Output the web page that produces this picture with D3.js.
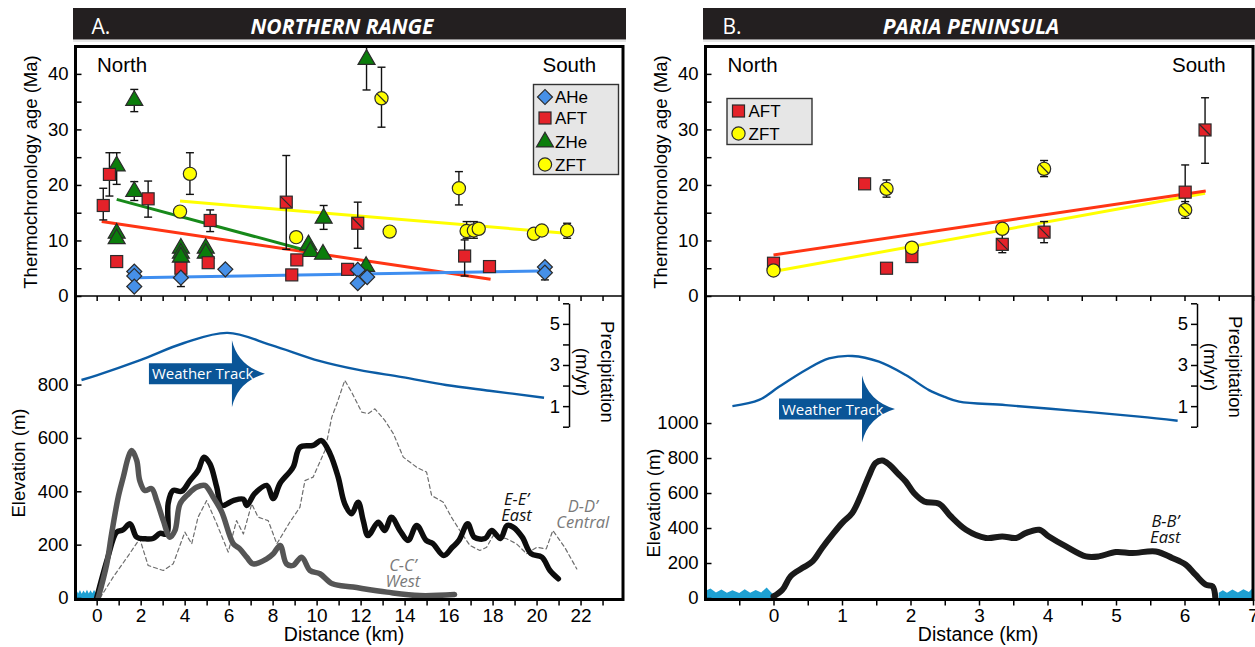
<!DOCTYPE html>
<html><head><meta charset="utf-8">
<script src="https://cdn.jsdelivr.net/npm/d3@7"></script>
<style>body{margin:0;background:#fff;} svg{display:block;}</style>
</head><body>
<svg id="chart" width="1255" height="647"></svg>
<script>
// ---------------- DATA ----------------
// Tick labels
const ageLabels = [0, 10, 20, 30, 40];
const ageMinor = [0, 5, 10, 15, 20, 25, 30, 35, 40];
const elevLabelsA = [0, 200, 400, 600, 800];
const elevLabelsB = [0, 200, 400, 600, 800, 1000];
const precipLabels = [1, 3, 5];
const precipTicks = [0, 1, 2, 3, 4, 5, 6];
const distLabelsA = [0, 2, 4, 6, 8, 10, 12, 14, 16, 18, 20, 22];
const distTicksA = [0,1,2,3,4,5,6,7,8,9,10,11,12,13,14,15,16,17,18,19,20,21,22,23];
const distLabelsB = [0, 1, 2, 3, 4, 5, 6, 7];
const distTicksB = [-0.5,0,0.5,1,1.5,2,2.5,3,3.5,4,4.5,5,5.5,6,6.5,7];

// Panel A thermochronology ages: [km, age Ma, errLow, errHigh, hatched]
const AHe_A = [[1.71,4.4],[1.71,3.6],[1.71,1.7],[3.83,3.3,1.7,4.0],[5.85,4.8],[11.87,4.7],[11.87,2.3],[12.3,3.4],[20.38,5.2],[20.38,4.2,2.9,4.2]];
const AFT_A = [[0.3,16.3,13.7,19.4],[0.58,21.9,18.0,25.8],[0.91,6.2],[2.34,17.5,14.2,20.7],[3.83,5.0],[5.07,6.0],
  [5.16,13.6,11.6,15.5],[8.62,16.9,8.4,25.3,1],[9.1,6.5],[8.87,3.8],[11.87,13.1,8.6,16.9,1],[11.41,4.8,4.3,5.3],[16.73,7.2,3.6,10.1],[17.86,5.3]];
const ZHe_A = [[0.91,23.4,20.1,25.8],[1.71,35.2,33.2,37.2],[1.71,18.8,17.2,20.6],[0.91,11.3],[0.91,10.3],
  [3.83,8.6],[3.83,7.7],[3.83,7.0],[4.96,8.6],[4.96,7.7],[9.63,9.2],[9.72,8.0],[10.29,7.5],[10.32,14.0,12.0,16.3],[12.27,42.6,37.1,44.9],[12.25,5.3]];
const ZFT_A = [[3.79,15.2,14.6,15.9],[4.24,22.0,18.3,25.8],[9.07,10.6],[12.95,35.6,30.4,41.2,1],[13.32,11.6],[16.47,19.4,16.4,22.4],
  [16.82,11.7,10.4,13.4],[17.15,11.8,10.4,13.4],[17.37,12.1,11.4,13.0],[19.88,11.2,10.5,11.9],[20.24,11.8],[21.39,11.8,10.4,13.1]];
// Panel A trend lines
const trendAHe_A = [[1.75,3.3],[20.19,4.5]];
const trendAFT_A = [[0.23,13.4],[17.91,3.0]];
const trendZHe_A = [[0.91,17.4],[9.92,7.8]];
const trendZFT_A = [[3.79,17.1],[21.34,11.3]];

// Panel B ages
const AFT_B = [[0.0,5.9],[1.33,20.2],[1.65,5.0],[2.02,7.1],[3.34,9.3,7.8,11.3,1],[3.95,11.5,9.6,13.4,1],[6.01,18.7,15.5,23.6],[6.3,29.9,23.9,35.7,1]];
const ZFT_B = [[0.0,4.6],[1.65,19.3,17.8,20.9,1],[2.02,8.7],[3.34,12.1],[3.95,22.9,21.5,24.4,1],[6.01,15.5,14.0,17.0,1]];
const trendAFT_B = [[0,7.4],[6.31,18.9]];
const trendZFT_B = [[0,4.4],[6.3,18.5]];

// Precipitation (m/yr) along distance (km)
const precipA = [[-0.69,2.27],[0,2.5],[1.98,3.24],[3.97,4.07],[5.95,4.56],[7.94,3.97],[10.12,3.2],[11.91,2.76],[13.89,2.41],[15.88,2.03],[17.86,1.75],[20.34,1.41]];
const precipB = [[-0.6,1.0],[-0.21,1.3],[0.08,1.94],[0.47,2.76],[0.81,3.32],[1.15,3.44],[1.54,3.16],[1.93,2.51],[2.27,1.78],[2.5,1.45],[2.71,1.22],[3.39,1.05],[4.36,0.78],[5.34,0.49],[5.9,0.29]];

// Elevation profiles [km, m]
const profileEE = [[0,0],[0.5,150],[0.91,247],[1.19,255],[1.52,278],[1.82,228],[2.18,222],[2.56,223],[2.88,242],[3.18,240],[3.25,354],[3.47,403],[3.87,400],[4.24,440],[4.61,478],[4.88,528],[5.15,503],[5.46,415],[5.69,347],[6.21,365],[6.67,370],[6.82,347],[7.19,392],[7.73,422],[8.03,373],[8.34,430],[8.93,490],[9.24,565],[9.84,572],[10.22,590],[10.61,541],[10.98,453],[11.28,353],[11.59,316],[11.89,359],[12.12,290],[12.34,234],[12.8,284],[13.1,253],[13.4,303],[13.79,253],[14.16,216],[14.55,272],[14.98,216],[15.28,204],[15.78,159],[16.17,190],[16.47,216],[16.87,278],[17.17,228],[17.66,223],[17.96,253],[18.36,223],[18.66,272],[18.95,265],[19.35,228],[19.75,166],[20.24,153],[20.61,103],[20.99,72]];
const profileCC = [[0.07,0],[0.46,128],[0.68,241],[0.98,378],[1.21,453],[1.44,528],[1.59,553],[1.82,516],[1.96,440],[2.19,403],[2.5,410],[2.73,365],[3.03,290],[3.33,228],[3.56,253],[3.79,353],[4.17,390],[4.54,415],[4.92,422],[5.3,378],[5.69,322],[6.21,204],[6.51,184],[6.82,153],[7.11,128],[7.73,147],[8.03,166],[8.34,197],[8.63,128],[8.93,122],[9.32,153],[9.7,103],[10.15,91],[10.72,53],[11.66,41],[13.2,22],[14.69,9],[16.27,13]];
const profileDD = [[0.15,0],[0.75,78],[1.44,159],[1.96,222],[2.34,122],[3.03,103],[3.48,128],[4.01,247],[4.32,203],[4.61,303],[5.0,365],[5.46,278],[5.98,172],[6.36,290],[6.67,240],[7.05,353],[7.34,303],[7.8,290],[8.19,203],[8.78,284],[9.24,340],[9.47,440],[9.84,453],[10.38,553],[10.69,678],[10.92,728],[11.28,816],[11.59,772],[12.05,697],[12.34,691],[12.65,709],[13.1,666],[13.49,616],[13.94,528],[14.55,490],[15.0,472],[15.23,384],[15.76,359],[16.13,303],[16.51,253],[16.97,197],[17.42,178],[17.73,190],[18.03,234],[18.64,222],[19.09,203],[19.55,166],[20.01,190],[20.44,184],[20.74,253],[21.28,190],[21.83,109]];
const profileBB = [[0,9],[0.13,47],[0.25,124],[0.42,171],[0.57,209],[0.71,286],[0.86,362],[1.0,428],[1.15,486],[1.27,581],[1.39,695],[1.49,771],[1.59,786],[1.69,762],[1.81,714],[1.93,666],[2.05,600],[2.2,552],[2.42,538],[2.58,470],[2.81,390],[3.1,343],[3.34,352],[3.54,343],[3.68,371],[3.88,390],[4.02,352],[4.27,295],[4.56,238],[4.75,238],[5.0,263],[5.24,257],[5.58,266],[5.82,229],[6.02,190],[6.16,133],[6.31,76],[6.41,66],[6.45,0]];

// Sea level fills [km, m]
const seaA = [[-1,20],[-0.92,29],[-0.84,17],[-0.76,30],[-0.68,16],[-0.6,28],[-0.52,18],[-0.44,31],[-0.36,17],[-0.28,29],[-0.2,18],[-0.12,30],[-0.04,20],[0,24]];
const seaBLeft = [[-1,40],[-0.92,55],[-0.84,32],[-0.76,48],[-0.68,30],[-0.6,45],[-0.5,28],[-0.42,50],[-0.34,30],[-0.26,46],[-0.18,32],[-0.1,60],[-0.04,35],[0,20]];
const seaBRight = [[6.5,30],[6.56,45],[6.62,30],[6.7,48],[6.78,32],[6.86,50],[6.94,35],[7,60]];

// ---------------- DRAWING ----------------
const svg = d3.select("#chart");
const FONT = '"Liberation Sans", Arial, sans-serif';
const MYR = '"Open Sans", "Noto Sans", sans-serif';
const FILL = {AFT: "#e42229", ZFT: "#ffff00", ZHe: "#0b7d0b", AHe: "#4690e8"};
const yAge = d3.scaleLinear().domain([0, 45.2]).range([296, 45]);
const yP = d3.scaleLinear().domain([0, 6]).range([426.7, 303.3]);

function marker(g, type, cx, cy, hatch) {
  const st = "#2b2b2b";
  if (type === "AFT") {
    g.append("rect").attr("x", cx - 6).attr("y", cy - 6).attr("width", 12).attr("height", 12)
      .attr("fill", FILL.AFT).attr("stroke", st).attr("stroke-width", 1.2);
    if (hatch) g.append("line").attr("x1", cx - 5.5).attr("y1", cy - 5.5).attr("x2", cx + 5.5).attr("y2", cy + 5.5).attr("stroke", st).attr("stroke-width", 1.2);
  } else if (type === "ZFT") {
    g.append("circle").attr("cx", cx).attr("cy", cy).attr("r", 6.6)
      .attr("fill", FILL.ZFT).attr("stroke", st).attr("stroke-width", 1.2);
    if (hatch) g.append("line").attr("x1", cx - 4.4).attr("y1", cy - 4.4).attr("x2", cx + 4.4).attr("y2", cy + 4.4).attr("stroke", st).attr("stroke-width", 1.2);
  } else if (type === "ZHe") {
    g.append("path").attr("d", d3.symbol(d3.symbolTriangle, 125)()).attr("transform", `translate(${cx},${cy})`)
      .attr("fill", FILL.ZHe).attr("stroke", st).attr("stroke-width", 1.2);
  } else {
    g.append("path").attr("d", d3.symbol(d3.symbolSquare, 112)()).attr("transform", `translate(${cx},${cy}) rotate(45)`)
      .attr("fill", FILL.AHe).attr("stroke", st).attr("stroke-width", 1.2);
  }
}

function txt(g, s, x, y, size, opts = {}) {
  const t = g.append("text").attr("x", x).attr("y", y).attr("font-size", size)
    .attr("font-family", opts.family || FONT).attr("fill", opts.fill || "#000").text(s);
  if (opts.anchor) t.attr("text-anchor", opts.anchor);
  if (opts.italic) t.attr("font-style", "italic");
  if (opts.bold) t.attr("font-weight", 700);
  return t;
}
function rtxt(g, s, cx, cy, size, angle) {
  g.append("text").attr("transform", `translate(${cx},${cy}) rotate(${angle})`).attr("text-anchor", "middle")
    .attr("dy", "0.35em").attr("font-size", size).attr("font-family", FONT).attr("fill", "#000").text(s);
}

function drawPanel(p) {
  const g = svg.append("g");
  const x = d3.scaleLinear().domain(p.xDomain).range([p.left, p.right]);
  const yE = d3.scaleLinear().domain([0, p.elevMax]).range([598, 296]);

  // title bar
  g.append("rect").attr("x", p.bar[0]).attr("y", 8).attr("width", p.bar[1] - p.bar[0]).attr("height", 31.5).attr("fill", "#231f20");
  g.append("line").attr("x1", p.bar[0]).attr("x2", p.bar[1]).attr("y1", 41).attr("y2", 41).attr("stroke", "#cfcfcf").attr("stroke-width", 1.2);
  txt(g, p.letter, p.letterX, 34, 21, {family: MYR, fill: "#fff"});
  txt(g, p.title, p.titleX, 34, 21, {family: MYR, fill: "#fff", anchor: "middle", italic: true, bold: true});

  // sea
  const seaArea = d3.area().x(d => x(d[0])).y0(yE(0)).y1(d => yE(d[1]));
  p.sea.forEach(s => g.append("path").attr("d", seaArea(s)).attr("fill", "#1ea0d2"));

  // precipitation curve
  const pl = d3.line().x(d => x(d[0])).y(d => yP(d[1])).curve(d3.curveCatmullRom);
  g.append("path").attr("d", pl(p.precip)).attr("fill", "none").attr("stroke", "#0b5ca5").attr("stroke-width", 2.4);

  // weather track arrow
  const ax = x(p.arrow[0]), ay = yP(p.arrow[1]);
  g.append("path").attr("d", `M${ax - 83},${ay - 10.5}H${ax}V${ay - 33.5}Q${ax + 6},${ay - 8} ${ax + 33},${ay}Q${ax + 6},${ay + 8} ${ax},${ay + 33.5}V${ay + 10.5}H${ax - 83}Z`)
    .attr("fill", "#0a5597");
  txt(g, "Weather Track", ax - 80, ay + 5.5, 15, {family: MYR, fill: "#fff"});

  // elevation profiles
  p.profiles.forEach(pr => {
    const ln = d3.line().x(d => x(d[0])).y(d => yE(d[1])).curve(pr.dash ? d3.curveLinear : d3.curveCatmullRom);
    const path = g.append("path").attr("d", ln(pr.data)).attr("fill", "none").attr("stroke", pr.color)
      .attr("stroke-width", pr.width).attr("stroke-linejoin", "round").attr("stroke-linecap", "round");
    if (pr.dash) path.attr("stroke-dasharray", pr.dash);
  });
  p.profileLabels.forEach(l => {
    txt(g, l.t1, x(l.km), yE(l.m) - 1, 16.5, {family: MYR, italic: true, anchor: "middle", fill: l.color});
    txt(g, l.t2, x(l.km), yE(l.m) + 15, 16.5, {family: MYR, italic: true, anchor: "middle", fill: l.color});
  });

  // thermochronology: trends, error bars, markers
  const la = d3.line().x(d => x(d[0])).y(d => yAge(d[1]));
  p.trends.forEach(t => g.append("path").attr("d", la(t.data)).attr("fill", "none").attr("stroke", t.color).attr("stroke-width", 3));
  p.series.forEach(s => s.data.filter(d => d.length >= 4).forEach(d => {
    const cx = x(d[0]), y1 = yAge(d[2]), y2 = yAge(d[3]);
    g.append("line").attr("x1", cx).attr("x2", cx).attr("y1", y1).attr("y2", y2).attr("stroke", "#111").attr("stroke-width", 1.4);
    [y1, y2].forEach(yy => g.append("line").attr("x1", cx - 4).attr("x2", cx + 4).attr("y1", yy).attr("y2", yy).attr("stroke", "#111").attr("stroke-width", 1.4));
  }));
  p.series.forEach(s => s.data.forEach(d => marker(g, s.type, x(d[0]), yAge(d[1]), d[4])));

  // axes
  const styleAxis = (ga, size) => {
    ga.selectAll(".tick line").attr("stroke", "#000").attr("stroke-width", 1.5);
    ga.selectAll("text").attr("font-size", size).attr("font-family", FONT).attr("fill", "#000");
  };
  const gAge = g.append("g").attr("transform", `translate(${p.left + 0.5},0)`)
    .call(d3.axisLeft(yAge).tickValues(ageMinor).tickSize(-6).tickPadding(7).tickFormat(d => ageLabels.includes(d) ? d : ""));
  gAge.select(".domain").remove(); styleAxis(gAge, 18.5);
  const gEl = g.append("g").attr("transform", `translate(${p.left + 0.5},0)`)
    .call(d3.axisLeft(yE).tickValues(p.elevLabels).tickSize(-6).tickPadding(7).tickFormat(d => d));
  gEl.select(".domain").remove(); styleAxis(gEl, 18.5);
  const gMid = g.append("g").attr("transform", "translate(0,296)")
    .call(d3.axisBottom(x).tickValues(p.distTicks).tickSize(5).tickFormat(""));
  gMid.select(".domain").remove(); styleAxis(gMid, 10);
  g.append("line").attr("x1", p.left).attr("x2", p.right).attr("y1", 296).attr("y2", 296).attr("stroke", "#000").attr("stroke-width", 1.5);
  const gBot = g.append("g").attr("transform", "translate(0,599.5)")
    .call(d3.axisBottom(x).tickValues(p.distTicks).tickSize(6).tickPadding(3).tickFormat(d => p.distLabels.includes(d) ? d : ""));
  gBot.select(".domain").remove(); styleAxis(gBot, 19);
  const gPr = g.append("g").attr("transform", `translate(${p.precipX},0)`)
    .call(d3.axisLeft(yP).tickValues(precipTicks).tickSize(6).tickSizeOuter(0).tickPadding(3).tickFormat(d => precipLabels.includes(d) ? d : ""));
  gPr.select(".domain").attr("stroke", "#000").attr("stroke-width", 1.5); styleAxis(gPr, 18.5);

  // frame
  g.append("rect").attr("x", p.left + 0.5).attr("y", 46.5).attr("width", p.right - p.left - 0.5).attr("height", 553)
    .attr("fill", "none").attr("stroke", "#000").attr("stroke-width", 3);

  // labels
  txt(g, "North", p.northX, 72, 20.5);
  txt(g, "South", p.southX, 72, 20.5);
  rtxt(g, "Thermochronology age (Ma)", p.ageTitleX, 172, 18.5, -90);
  rtxt(g, "Elevation (m)", p.elevTitle[0], p.elevTitle[1], 18.5, -90);
  rtxt(g, "(m/yr)", p.precipX + 13, p.precipTitleY, 18.5, 90);
  rtxt(g, "Precipitation", p.precipX + 38, p.precipTitleY, 18.5, 90);
  txt(g, "Distance (km)", p.distTitleX, 641, 19.5, {anchor: "middle"});

  // legend
  const L = p.legend;
  g.append("rect").attr("x", L.x).attr("y", L.y).attr("width", L.w).attr("height", L.h)
    .attr("fill", "#e6e6e6").attr("stroke", "#333").attr("stroke-width", 1.4);
  L.items.forEach((it, i) => {
    const cy = L.y + L.first + i * L.step[i];
    marker(g, it, L.x + 11.5, cy, 0);
    txt(g, it, L.x + 21.5, cy + 6, 17);
  });
}

drawPanel({
  left: 75, right: 623, xDomain: [-0.985, 23.93], elevMax: 1132, bar: [73, 626],
  letter: "A.", letterX: 91.5, title: "NORTHERN RANGE", titleX: 342,
  sea: [seaA], precip: precipA, arrow: [6.15, 2.58],
  profiles: [
    {data: profileDD, color: "#6e6e6e", width: 1.2, dash: "4,3"},
    {data: profileEE, color: "#0d0d0d", width: 5.5},
    {data: profileCC, color: "#555555", width: 5.5}
  ],
  profileLabels: [
    {t1: "E-E\u2019", t2: "East", km: 19.09, m: 345, color: "#111"},
    {t1: "D-D\u2019", t2: "Central", km: 22.1, m: 318, color: "#7a7a7a"},
    {t1: "C-C\u2019", t2: "West", km: 13.92, m: 97, color: "#7a7a7a"}
  ],
  trends: [
    {data: trendZFT_A, color: "#ffff00"}, {data: trendAFT_A, color: "#ff3514"},
    {data: trendZHe_A, color: "#17891a"}, {data: trendAHe_A, color: "#3f8ef0"}
  ],
  series: [{type: "ZHe", data: ZHe_A}, {type: "AFT", data: AFT_A}, {type: "ZFT", data: ZFT_A}, {type: "AHe", data: AHe_A}],
  elevLabels: elevLabelsA, distTicks: distTicksA, distLabels: distLabelsA,
  precipX: 569, precipTitleY: 372,
  northX: 97, southX: 542.5, ageTitleX: 31, elevTitle: [19, 463], distTitleX: 344,
  legend: {x: 533.5, y: 84.5, w: 85, h: 90, first: 12.5, step: [21, 21, 22.5, 22.5], items: ["AHe", "AFT", "ZHe", "ZFT"]}
});

drawPanel({
  left: 705, right: 1253, xDomain: [-1, 7], elevMax: 1726, bar: [703, 1255],
  letter: "B.", letterX: 722.5, title: "PARIA PENINSULA", titleX: 971,
  sea: [seaBLeft, seaBRight], precip: precipB, arrow: [1.292, 0.86],
  profiles: [{data: profileBB, color: "#1a1a1a", width: 6}],
  profileLabels: [{t1: "B-B\u2019", t2: "East", km: 5.72, m: 400, color: "#111"}],
  trends: [{data: trendZFT_B, color: "#ffff00"}, {data: trendAFT_B, color: "#ff3514"}],
  series: [{type: "AFT", data: AFT_B}, {type: "ZFT", data: ZFT_B}],
  elevLabels: elevLabelsB, distTicks: distTicksB, distLabels: distLabelsB,
  precipX: 1197, precipTitleY: 367,
  northX: 727.5, southX: 1172, ageTitleX: 661, elevTitle: [654, 503], distTitleX: 978,
  legend: {x: 727, y: 98.5, w: 85, h: 46, first: 12.5, step: [22.5, 22.5], items: ["AFT", "ZFT"]}
});
</script>
</body></html>
